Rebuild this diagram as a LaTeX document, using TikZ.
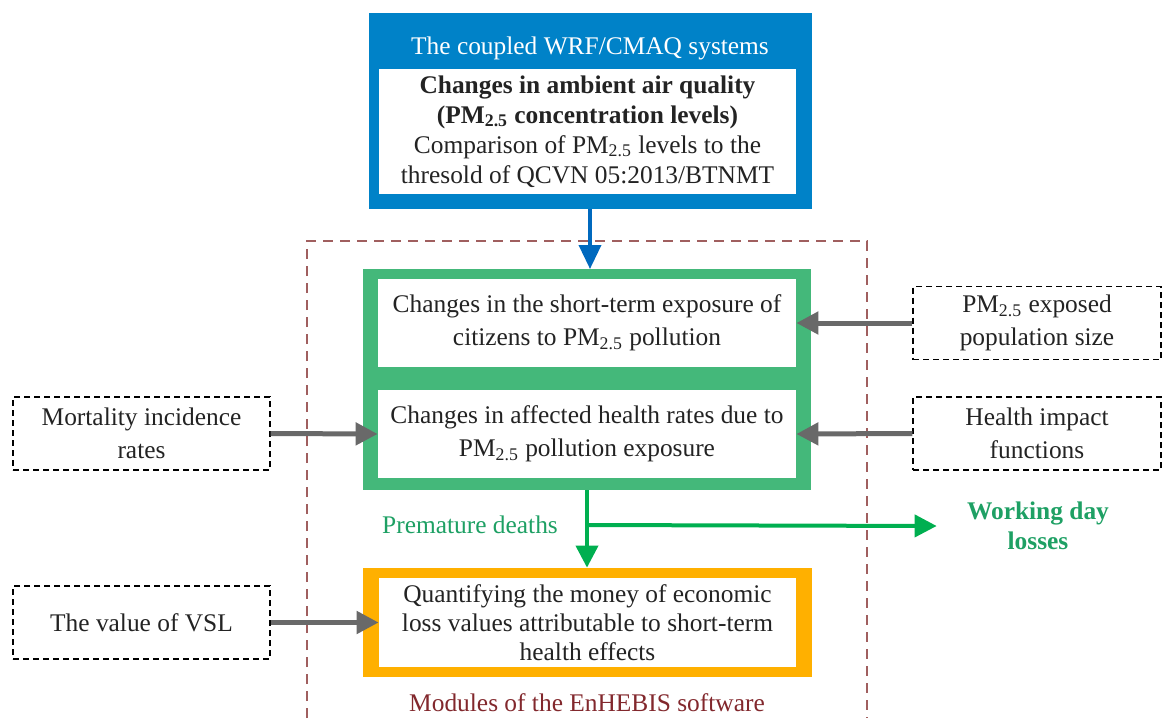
\documentclass[tikz,border=0pt]{standalone}
\usepackage{fontspec}
\setmainfont{Liberation Serif}
\usetikzlibrary{arrows.meta}
\definecolor{wrfblue}{RGB}{0,130,200}
\definecolor{arrblue}{RGB}{0,105,190}
\definecolor{modgreen}{RGB}{68,184,122}
\definecolor{arrgreen}{RGB}{0,175,80}
\definecolor{txtgreen}{RGB}{30,160,100}
\definecolor{ecoorange}{RGB}{255,176,0}
\definecolor{modred}{RGB}{160,95,95}
\definecolor{modtext}{RGB}{130,40,45}
\definecolor{arrgray}{RGB}{105,105,105}
\definecolor{txt}{RGB}{35,35,35}
\newcommand{\pmtf}{PM\textsubscript{2.5}}
\tikzset{
  every node/.style={font=\fontsize{12.7}{16.5}\selectfont},
  inbox/.style={fill=white, minimum width=209pt, minimum height=44pt, align=center, text=txt, inner sep=0pt},
  inputbox/.style={draw, densely dashed, line width=0.6pt, minimum width=128.5pt, minimum height=36.5pt, align=center, text=txt, inner sep=0pt},
  grayarrow/.style={arrgray, line width=2.5pt, -{Triangle[length=11pt,width=11pt]}},
  greenarrow/.style={arrgreen, line width=2pt, -{Triangle[length=11pt,width=11pt]}}
}
\begin{document}
\begin{tikzpicture}[x=0.5pt, y=-0.5pt]
\useasboundingbox (0,0) rectangle (1162,718);
% WRF/CMAQ block
\node[fill=wrfblue, minimum width=221.5pt, minimum height=98pt] (wrf) at (590.5,111) {};
\node[text=white] (wrftitle) at (590,48) {The coupled WRF/CMAQ systems};
\node[fill=white, minimum width=208.5pt, minimum height=62.5pt, align=center, text=txt, inner sep=0pt,
      font=\fontsize{12.7}{15}\selectfont] (aq) at (587.5,131.5)
  {\textbf{Changes in ambient air quality}\\ \textbf{(\pmtf{} concentration levels)}\\
   Comparison of \pmtf{} levels to the\\ thresold of QCVN 05:2013/BTNMT};
% modules frame
\draw[modred, dash pattern=on 5pt off 3.5pt, line width=0.6pt] (307,718) -- (307,241) -- (867,241) -- (867,718);
\node[text=modtext] (modlabel) at (587,703) {Modules of the EnHEBIS software};
% exposure / health block
\node[fill=modgreen, minimum width=224pt, minimum height=110.5pt] (expgrp) at (587,379.5) {};
\node[inbox] (expo) at (587,323) {Changes in the short-term exposure of\\ citizens to \pmtf{} pollution};
\node[inbox] (rates) at (587,434) {Changes in affected health rates due to\\ \pmtf{} pollution exposure};
% economic block
\node[fill=ecoorange, minimum width=224.5pt, minimum height=54.5pt] (ecogrp) at (587.5,622.5) {};
\node[inbox, minimum width=208.5pt, minimum height=44.5pt, font=\fontsize{12.7}{14.5}\selectfont] (money) at (587.5,622.5)
  {Quantifying the money of economic\\ loss values attributable to short-term\\ health effects};
% inputs
\node[inputbox] (mort) at (141.5,433.5) {Mortality incidence\\ rates};
\node[inputbox] (vsl) at (141.5,622.5) {The value of VSL};
\node[inputbox, minimum width=124pt] (pop) at (1037,323) {\pmtf{} exposed\\ population size};
\node[inputbox, minimum width=124pt] (hif) at (1037,433.5) {Health impact\\ functions};
% outputs
\node[text=txtgreen] (deaths) at (470,525) {Premature deaths};
\node[text=txtgreen, font=\fontsize{12.7}{15}\selectfont\bfseries, align=center, inner xsep=15pt] (wdl) at (1038,526) {Working day\\ losses};
\coordinate (fork) at (587,525);
% arrows
\draw[arrblue, line width=1.8pt, -{Triangle[length=12pt,width=11pt]}] (590,209) -- (590,269);
\draw[grayarrow] (pop.west) -- (expo.east);
\draw[grayarrow] (hif.west) -- (rates.east);
\draw[grayarrow] (mort.east) -- (rates.west);
\draw[grayarrow] (vsl.east) -- (money.west);
\draw[greenarrow] (expgrp.south) -- (expgrp.south |- ecogrp.north);
\draw[greenarrow] (fork) -- (wdl.west);
\end{tikzpicture}
\end{document}
